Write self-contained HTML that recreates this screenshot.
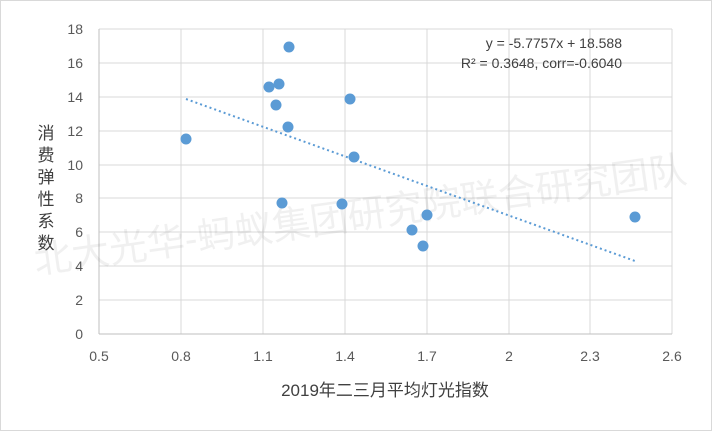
<!DOCTYPE html>
<html><head><meta charset="utf-8"><style>
body{margin:0;background:#fff}
svg text{font-family:"Liberation Sans","Noto Sans CJK SC",sans-serif}
</style></head><body>
<svg width="712" height="431" viewBox="0 0 712 431" xmlns="http://www.w3.org/2000/svg">
<rect x="0.5" y="0.5" width="711" height="430" fill="#fff" stroke="#d9d9d9"/>
<g stroke="#d9d9d9" stroke-width="1">
<line x1="99" y1="29" x2="672" y2="29"/><line x1="99" y1="63" x2="672" y2="63"/><line x1="99" y1="97" x2="672" y2="97"/><line x1="99" y1="131" x2="672" y2="131"/><line x1="99" y1="165" x2="672" y2="165"/><line x1="99" y1="198" x2="672" y2="198"/><line x1="99" y1="232" x2="672" y2="232"/><line x1="99" y1="266" x2="672" y2="266"/><line x1="99" y1="300" x2="672" y2="300"/>
<line x1="181" y1="29" x2="181" y2="334"/><line x1="263" y1="29" x2="263" y2="334"/><line x1="345" y1="29" x2="345" y2="334"/><line x1="427" y1="29" x2="427" y2="334"/><line x1="509" y1="29" x2="509" y2="334"/><line x1="590" y1="29" x2="590" y2="334"/><line x1="672" y1="29" x2="672" y2="334"/>
</g>
<line x1="99" y1="29" x2="99" y2="334" stroke="#bfbfbf"/>
<line x1="99" y1="334" x2="672" y2="334" stroke="#bfbfbf"/>
<g font-size="14" fill="#595959" text-anchor="end">
<text x="83" y="34">18</text><text x="83" y="68">16</text><text x="83" y="102">14</text><text x="83" y="136">12</text><text x="83" y="170">10</text><text x="83" y="203">8</text><text x="83" y="237">6</text><text x="83" y="271">4</text><text x="83" y="305">2</text><text x="83" y="339">0</text>
</g>
<g font-size="14" fill="#595959" text-anchor="middle">
<text x="99" y="361">0.5</text><text x="181" y="361">0.8</text><text x="263" y="361">1.1</text><text x="345" y="361">1.4</text><text x="427" y="361">1.7</text><text x="509" y="361">2</text><text x="590" y="361">2.3</text><text x="672" y="361">2.6</text>
</g>
<text x="385" y="396" font-size="17" fill="#404040" text-anchor="middle">2019年二三月平均灯光指数</text>
<g font-size="17" fill="#404040" text-anchor="middle">
<text x="46" y="139">消</text><text x="46" y="161">费</text><text x="46" y="183">弹</text><text x="46" y="205">性</text><text x="46" y="227">系</text><text x="46" y="249">数</text>
</g>
<text x="362" y="228" font-size="38" fill="#000" fill-opacity="0.06" text-anchor="middle" transform="rotate(-8 362 228)">北大光华-蚂蚁集团研究院联合研究团队</text>
<line x1="186" y1="99" x2="635" y2="261" stroke="#5b9bd5" stroke-width="2" stroke-dasharray="2,3"/>
<g fill="#5b9bd5">
<circle cx="186" cy="139" r="5.5"/><circle cx="269" cy="87" r="5.5"/><circle cx="279" cy="84" r="5.5"/><circle cx="289" cy="47" r="5.5"/><circle cx="276" cy="105" r="5.5"/><circle cx="288" cy="127" r="5.5"/><circle cx="282" cy="203" r="5.5"/><circle cx="350" cy="99" r="5.5"/><circle cx="354" cy="157" r="5.5"/><circle cx="342" cy="204" r="5.5"/><circle cx="412" cy="230" r="5.5"/><circle cx="423" cy="246" r="5.5"/><circle cx="427" cy="215" r="5.5"/><circle cx="635" cy="217" r="5.5"/>
</g>
<g font-size="14" fill="#404040" text-anchor="end">
<text x="622" y="48">y = -5.7757x + 18.588</text>
<text x="622" y="68">R² = 0.3648, corr=-0.6040</text>
</g>
</svg>
</body></html>
